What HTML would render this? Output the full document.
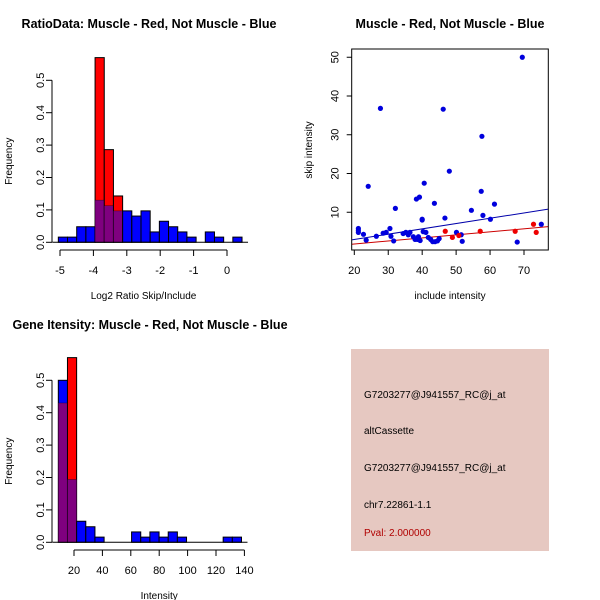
<!DOCTYPE html>
<html><head><meta charset="utf-8"><style>
body{margin:0;background:#fff;}
svg{display:block;font-family:"Liberation Sans",sans-serif;}
</style></head><body>
<svg id="s" width="600" height="600" viewBox="0 0 600 600">
<rect x="0" y="0" width="600" height="600" fill="#fff"/>
<text x="149" y="28" font-size="12.5" font-weight="bold" text-anchor="middle">RatioData: Muscle - Red, Not Muscle - Blue</text>
<text x="450" y="28" font-size="12.5" font-weight="bold" text-anchor="middle">Muscle - Red, Not Muscle - Blue</text>
<text x="150" y="329" font-size="12.5" font-weight="bold" text-anchor="middle">Gene Itensity: Muscle - Red, Not Muscle - Blue</text>
<g>
<rect x="351" y="349" width="198" height="202" fill="#e6c8c1"/>
<text x="364" y="398" font-size="10">G7203277@J941557_RC@j_at</text>
<text x="364" y="434" font-size="10">altCassette</text>
<text x="364" y="471" font-size="10">G7203277@J941557_RC@j_at</text>
<text x="364" y="508" font-size="10">chr7.22861-1.1</text>
<text x="364" y="536" font-size="10" fill="#b00000">Pval: 2.000000</text>
</g>
</svg>
<script>
// Ratio histogram data
const ratioBinStart = -5.05;
const ratioBinWidth = 0.275;
const ratioBlue = [0.016,0.016,0.048,0.048,0.13,0.113,0.097,0.097,0.081,0.097,0.032,0.065,0.048,0.032,0.016,0,0.032,0.016,0,0.016];
const ratioRed  = [0,0,0,0,0.57,0.286,0.143,0,0,0,0,0,0,0,0,0,0,0,0,0];
const ratioXTicks = [-5,-4,-3,-2,-1,0];
const freqTicks = [0,0.1,0.2,0.3,0.4,0.5];
// Intensity histogram data
const intBinStart = 8.95;
const intBinWidth = 6.45;
const intBlue = [0.5,0.194,0.065,0.048,0.016,0,0,0,0.032,0.016,0.032,0.016,0.032,0.016,0,0,0,0,0.016,0.016];
const intRed  = [0.43,0.57,0,0,0,0,0,0,0,0,0,0,0,0,0,0,0,0,0,0];
const intXTicks = [20,40,60,80,100,120,140];
// Scatter data
const blueX = [69.5,27.7,46.2,57.6,48,24.1,40.6,57.4,38.3,39.2,43.6,61.3,32.1,54.5,57.9,46.7,60.1,40,40,75.1,68,21.2,21.2,21.2,22.7,23.5,26.5,28.5,29.4,30.5,30.8,31.6,34.4,35.2,35.9,36.4,37.4,37.9,38.6,38.9,39.4,40.3,41.1,41.8,42.5,43.1,43.8,44.5,45.0,50.1,51.5,51.8];
const blueY = [50,36.8,36.6,29.6,20.6,16.7,17.5,15.4,13.4,13.9,12.3,12.1,11,10.5,9.2,8.5,8.2,8.0,8.2,6.9,2.3,5.8,5.3,4.8,4.3,2.8,3.8,4.6,4.8,5.8,3.8,2.6,4.5,4.8,4.2,4.8,3.7,3.0,3.0,3.7,2.7,5.0,4.8,3.5,3.0,2.4,2.4,2.6,3.2,4.8,4.2,2.5];
const redX = [46.8,48.9,50.8,57.1,67.4,72.8,73.6];
const redY = [5.1,3.5,4.0,5.1,5.1,6.9,4.8];
const blueFit = [0.23,0.137];
const redFit = [0.23,0.0786];
const scXTicks = [20,30,40,50,60,70];
const scYTicks = [10,20,30,40,50];

const NS='http://www.w3.org/2000/svg';
const svg=document.getElementById('s');
function mk(tag,attrs,parent){const e=document.createElementNS(NS,tag);for(const k in attrs)e.setAttribute(k,attrs[k]);(parent||svg).appendChild(e);return e;}
function txt(s,attrs,parent){const e=mk('text',attrs,parent);e.textContent=s;return e;}

function histogram(o){
  const g=mk('g',{});
  
  
  const xs=v=>o.x0+(v-o.xv0)*o.xk;
  const ys=v=>o.y0-v*o.yk;
  for(let i=0;i<o.blue.length;i++){
    const a=o.start+i*o.width,b=a+o.width;
    const x1=xs(a),x2=xs(b);
    const bl=o.blue[i],rd=o.red[i];
    const lo=Math.min(bl,rd),hi=Math.max(bl,rd);
    if(hi<=0)continue;
    const top=mk('rect',{x:x1,y:ys(hi),width:x2-x1,height:ys(0)-ys(hi),fill:bl>=rd?'#0000ff':'#ff0000',stroke:'#000','stroke-width':1},g);
    
    
    if(lo>0){
      const p=mk('rect',{x:x1,y:ys(lo),width:x2-x1,height:ys(0)-ys(lo),fill:'#7f007f',stroke:'#000','stroke-width':0.6,'stroke-opacity':0.5},g);
      
      
    }
  }
  const xa=mk('g',{},g);
  
  
  const xt=o.xticks;
  mk('line',{x1:xs(xt[0]),x2:xs(xt[xt.length-1]),y1:o.axY,y2:o.axY,stroke:'#000'},xa);
  xt.forEach(t=>{mk('line',{x1:xs(t),x2:xs(t),y1:o.axY,y2:o.axY+6,stroke:'#000'},xa);
    const l=txt(String(t),{x:xs(t),y:o.axY+24,'font-size':11,'text-anchor':'middle'},xa);
    
    });
  const xl=txt(o.xlabel,{x:(xs(xt[0])+xs(xt[xt.length-1]))/2,y:o.axY+49,'font-size':10,'text-anchor':'middle'},g);
  
  
  const ya=mk('g',{},g);
  
  
  mk('line',{x1:o.axX,x2:o.axX,y1:ys(0),y2:ys(0.5),stroke:'#000'},ya);
  freqTicks.forEach(t=>{mk('line',{x1:o.axX,x2:o.axX-6,y1:ys(t),y2:ys(t),stroke:'#000'},ya);
    const l=txt(t.toFixed(1),{x:o.axX-8,y:ys(t),'font-size':11,'text-anchor':'middle',transform:`rotate(-90 ${o.axX-8} ${ys(t)})`},ya);
    
    });
  const yl=txt('Frequency',{x:12,y:ys(0.25),'font-size':10,'text-anchor':'middle',transform:`rotate(-90 12 ${ys(0.25)})`},g);
  
  
  mk('line',{x1:xs(o.start)-6,x2:xs(o.start+o.width*o.blue.length)+6,y1:ys(0),y2:ys(0),stroke:'#000'},g);
}

histogram({name:'ratio-histogram',blue:ratioBlue,red:ratioRed,start:ratioBinStart,width:ratioBinWidth,
  x0:60,xv0:-5,xk:33.4,y0:242.3,yk:324,xticks:ratioXTicks,axY:250,axX:52,xlabel:'Log2 Ratio Skip/Include'});
histogram({name:'intensity-histogram',blue:intBlue,red:intRed,start:intBinStart,width:intBinWidth,
  x0:74,xv0:20,xk:1.42,y0:542.3,yk:324,xticks:intXTicks,axY:550,axX:52,xlabel:'Intensity'});

(function(){
  const g=mk('g',{});
  
  
  const xs=v=>354.3+(v-20)*3.394;
  const ys=v=>251-v*3.875;
  const L=351.7,R=548.3,T=49,B=250;
  const cp=mk('clipPath',{id:'cp'},g);mk('rect',{x:L,y:T,width:R-L,height:B-T},cp);
  const pts=mk('g',{'clip-path':'url(#cp)'},g);
  const xa0=(L-354.3)/3.394+20,xa1=(R-354.3)/3.394+20;
  [[blueFit,'#0000aa','blue-fit-line'],[redFit,'#cc0000','red-fit-line']].forEach(([f,c,n])=>{
    const l=mk('line',{x1:xs(xa0),y1:ys(f[0]+f[1]*xa0),x2:xs(xa1),y2:ys(f[0]+f[1]*xa1),stroke:c,'stroke-width':1},pts);
    
    
  });
  blueX.forEach((x,i)=>{const c=mk('circle',{cx:xs(x),cy:ys(blueY[i]),r:2.6,fill:'#0000dd'},pts);
    
    });
  redX.forEach((x,i)=>{const c=mk('circle',{cx:xs(x),cy:ys(redY[i]),r:2.6,fill:'#ee0000'},pts);
    
    });
  const box=mk('rect',{x:L,y:T,width:R-L,height:B-T,fill:'none',stroke:'#000'},g);
  
  
  scXTicks.forEach(t=>{mk('line',{x1:xs(t),x2:xs(t),y1:B,y2:B+5,stroke:'#000'},g);
    const l=txt(String(t),{x:xs(t),y:B+24,'font-size':11,'text-anchor':'middle'},g);
    
    });
  scYTicks.forEach(t=>{mk('line',{x1:L,x2:L-5,y1:ys(t),y2:ys(t),stroke:'#000'},g);
    const l=txt(String(t),{x:L-13,y:ys(t),'font-size':11,'text-anchor':'middle',transform:`rotate(-90 ${L-13} ${ys(t)})`},g);
    
    });
  const xl=txt('include intensity',{x:450,y:299,'font-size':10,'text-anchor':'middle'},g);
  
  
  const yl=txt('skip intensity',{x:312,y:150,'font-size':10,'text-anchor':'middle',transform:'rotate(-90 312 150)'},g);
  
  
})();
</script>
</body></html>
